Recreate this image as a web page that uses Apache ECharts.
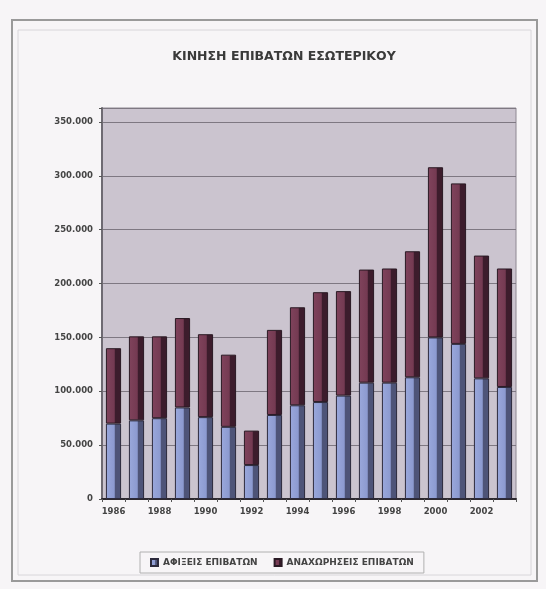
<!DOCTYPE html>
<html>
<head>
<meta charset="utf-8">
<script src="https://cdn.jsdelivr.net/npm/echarts@6/dist/echarts.min.js"></script>
<style>
html,body{margin:0;padding:0;background:#f7f5f7;}
#c{width:546px;height:589px;}
</style>
</head>
<body>
<div id="c"></div>
<script>
var years = ['1986','1987','1988','1989','1990','1991','1992','1993','1994','1995','1996','1997','1998','1999','2000','2001','2002','2003'];
var arrivals = [70000, 73000, 75000, 85000, 76000, 67000, 31500, 78000, 87000, 90000, 96000, 108000, 108000, 113000, 150000, 144000, 112000, 104000];
var departures = [70000, 78000, 76000, 83000, 77000, 67000, 32000, 79000, 91000, 102000, 97000, 105000, 106000, 117000, 158000, 149000, 114000, 110000];
var seriesNames = ['ΑΦΙΞΕΙΣ ΕΠΙΒΑΤΩΝ', 'ΑΝΑΧΩΡΗΣΕΙΣ ΕΠΙΒΑΤΩΝ'];
var titleText = 'ΚΙΝΗΣΗ ΕΠΙΒΑΤΩΝ ΕΣΩΤΕΡΙΚΟΥ';

var chart = echarts.init(document.getElementById('c'));
function grad(c1, c2, c3) {
  return new echarts.graphic.LinearGradient(0, 0, 1, 0, [
    {offset: 0, color: c1}, {offset: 0.55, color: c2}, {offset: 0.62, color: c3}, {offset: 1, color: c3}
  ]);
}
var F = 'DejaVu Sans';
chart.setOption({
  backgroundColor: '#f7f5f7',
  animation: false,
  graphic: [
    {type: 'rect', shape: {x: 12, y: 20, width: 525, height: 561}, style: {fill: 'none', stroke: '#9a9a9a', lineWidth: 2}},
    {type: 'rect', shape: {x: 18, y: 30, width: 513, height: 545}, style: {fill: 'none', stroke: '#d8d6da', lineWidth: 1}}
  ],
  title: {
    text: titleText,
    left: 279, top: 45, textAlign: 'center',
    textStyle: {fontFamily: F, fontSize: 12.5, fontWeight: 'bold', color: '#3a3a3a'}
  },
  legend: {
    data: seriesNames,
    top: 552, left: 140,
    itemWidth: 7, itemHeight: 7, itemGap: 16,
    icon: 'rect',
    borderColor: '#b0b0b0', borderWidth: 1, padding: [6, 10],
    textStyle: {fontFamily: F, fontSize: 9, color: '#444', fontWeight: 'bold'}
  },
  grid: {left: 102, right: 30, top: 108, bottom: 90, show: true, backgroundColor: '#cbc4cf', borderColor: '#8e8892', borderWidth: 1},
  xAxis: {
    type: 'category', data: years,
    axisLine: {lineStyle: {color: '#2e2a30', width: 2}},
    axisTick: {show: true, interval: 0, lineStyle: {color: '#555'}, length: 3},
    axisLabel: {interval: 1, fontFamily: F, fontSize: 8.5, fontWeight: 'bold', color: '#444', margin: 8}
  },
  yAxis: {
    type: 'value', min: 0, max: 363000, interval: 50000,
    axisLine: {show: true, lineStyle: {color: '#6e6a72', width: 2}},
    axisTick: {show: true, lineStyle: {color: '#555'}, length: 3},
    splitLine: {lineStyle: {color: '#7e7882', width: 1}},
    axisLabel: {
      fontFamily: F, fontSize: 8.5, fontWeight: 'bold', color: '#444', margin: 9,
      formatter: function (v) {
        if (v % 50000 !== 0) return '';
        return String(v).replace(/\B(?=(\d{3})+(?!\d))/g, '.');
      }
    }
  },
  series: [
    {
      name: seriesNames[0], type: 'bar', stack: 'a', data: arrivals, barWidth: '66%',
      itemStyle: {color: grad('#9aa8dc', '#8c9ad0', '#4e5478'), borderColor: '#2c2a3c', borderWidth: 1}
    },
    {
      name: seriesNames[1], type: 'bar', stack: 'a', data: departures, barWidth: '66%',
      itemStyle: {color: grad('#80435c', '#743a52', '#3c1c2c'), borderColor: '#2a1a24', borderWidth: 1}
    }
  ]
});
</script>
</body>
</html>
